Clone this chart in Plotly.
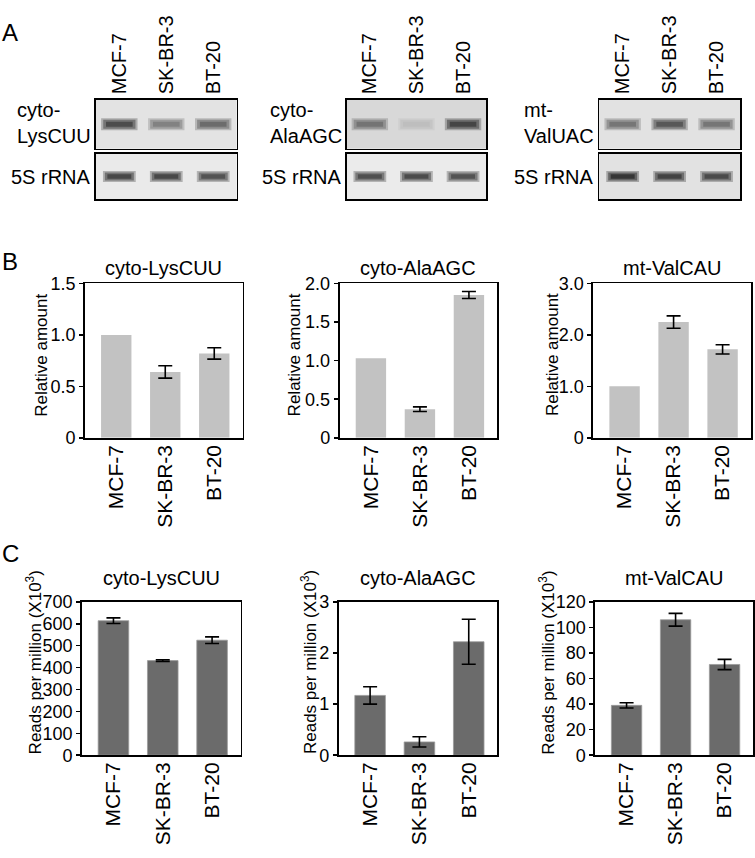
import plotly.graph_objects as go

W, H = 755, 858
FONT = "Liberation Sans, Arial, sans-serif"

cell_lines = ["MCF-7", "SK-BR-3", "BT-20"]

# ---- Panel A: northern blot band darkness (0 = blank, 1 = black) ----
blot_probes = ["cyto-<br>LysCUU", "cyto-<br>AlaAGC", "mt-<br>ValUAC"]
probe_band = [[0.85, 0.55, 0.68], [0.62, 0.22, 0.88], [0.62, 0.78, 0.62]]
rrna_band = [[0.88, 0.88, 0.82], [0.84, 0.86, 0.82], [0.97, 0.9, 0.86]]
probe_bg = ["#e3e3e3", "#d8d8d8", "#e2e2e2"]
rrna_bg = ["#eaeaea", "#ebebeb", "#e2e2e2"]
rrna_label = "5S rRNA"

# ---- Panel B: relative amount ----
b_titles = ["cyto-LysCUU", "cyto-AlaAGC", "mt-ValCAU"]
b_vals = [[1.0, 0.64, 0.82], [1.03, 0.37, 1.85], [1.0, 2.25, 1.72]]
b_err = [[None, 0.06, 0.055], [None, 0.03, 0.045], [None, 0.12, 0.09]]
b_tickvals = [[0, 0.5, 1.0, 1.5], [0, 0.5, 1.0, 1.5, 2.0], [0, 1.0, 2.0, 3.0]]
b_ticktext = [["0", "0.5", "1.0", "1.5"], ["0", "0.5", "1.0", "1.5", "2.0"], ["0", "1.0", "2.0", "3.0"]]
b_ymax = [1.5, 2.0, 3.0]
b_ylabel = "Relative amount"

# ---- Panel C: reads per million (x10^3) ----
c_titles = ["cyto-LysCUU", "cyto-AlaAGC", "mt-ValCAU"]
c_vals = [[614, 432, 525], [1.17, 0.26, 2.22], [39, 106, 71]]
c_err = [[13, 4, 15], [0.17, 0.10, 0.44], [2, 5, 4]]
c_tickvals = [[0, 100, 200, 300, 400, 500, 600, 700], [0, 1, 2, 3], [0, 20, 40, 60, 80, 100, 120]]
c_ymax = [700, 3, 120]
c_ylabel = "Reads per million (X10<sup>3</sup>)"

panel_letters = ["A", "B", "C"]

# ---- layout geometry (pixels in the 755x858 picture) ----
blot_x = [(96, 237), (347, 487), (600, 741)]
blot_upper_y = (92, 142)
blot_lower_y = (147, 194)
b_x = [(85, 243), (340, 498), (594, 752)]
b_y = (280, 438)
c_x = [(82, 241), (339, 498), (596, 754)]
c_y = (606, 763)
b_ylabel_x = [42, 295, 554]
c_ylabel_x = [34, 310, 548]


def px_x(p):
    return p / W


def px_y(p):
    return 1 - p / H


def xd(a, b):
    return [px_x(a), min(1.0, px_x(b))]


def yd(top, bottom):
    return [max(0.0, px_y(bottom)), px_y(top)]


fig = go.Figure()
layout = {}
shapes = []
annotations = []
counter = [0]


def new_axes(xdom, ydom, xopts, yopts):
    counter[0] += 1
    n = counter[0]
    sfx = "" if n == 1 else str(n)
    layout["xaxis" + sfx] = dict(domain=xdom, anchor="y" + sfx, **xopts)
    layout["yaxis" + sfx] = dict(domain=ydom, anchor="x" + sfx, **yopts)
    return "x" + sfx, "y" + sfx


def gray(d, a):
    g = int(round(232 - 215 * d))
    return f"rgba({g},{g},{g},{a})"


def add_bands(xa, ya, darkness, scale):
    # soft-edged band: stacked translucent strokes
    for size, w, a in [(26, 12, 0.3), (23, 9, 0.45), (19, 5, 0.6)]:
        fig.add_trace(go.Scatter(
            x=cell_lines, y=[0.5] * len(cell_lines), xaxis=xa, yaxis=ya,
            mode="markers", hoverinfo="skip", showlegend=False,
            marker=dict(symbol="line-ew", size=size * scale,
                        line=dict(width=w * scale, color=[gray(d, a) for d in darkness])),
        ))


blot_common_y = dict(range=[0, 1], showticklabels=False, ticks="", showgrid=False,
                     zeroline=False, showline=True, mirror=True, linecolor="black", linewidth=1.6)

for g in range(3):
    # upper probe blot
    xa, ya = new_axes(
        xd(*blot_x[g]), yd(*blot_upper_y),
        dict(type="category", categoryorder="array", categoryarray=cell_lines,
             range=[-0.5, 2.5], side="top", tickangle=-90, ticks="", showgrid=False,
             zeroline=False, showline=True, mirror=True, linecolor="black", linewidth=1.6,
             tickfont=dict(size=20, color="black", family=FONT)),
        blot_common_y)
    shapes.append(dict(type="rect", xref=xa + " domain", yref=ya + " domain", x0=0, x1=1, y0=0, y1=1,
                       fillcolor=probe_bg[g], line=dict(width=0), layer="below"))
    add_bands(xa, ya, probe_band[g], 1.0)
    annotations.append(dict(xref="paper", yref="paper", x=px_x(blot_x[g][0] - 3), y=px_y(116),
                            xanchor="right", yanchor="middle", align="left", showarrow=False,
                            text=blot_probes[g], font=dict(size=20, color="black", family=FONT)))
    # lower 5S blot
    xa, ya = new_axes(
        xd(*blot_x[g]), yd(*blot_lower_y),
        dict(type="category", categoryorder="array", categoryarray=cell_lines,
             range=[-0.5, 2.5], showticklabels=False, ticks="", showgrid=False,
             zeroline=False, showline=True, mirror=True, linecolor="black", linewidth=1.6),
        blot_common_y)
    shapes.append(dict(type="rect", xref=xa + " domain", yref=ya + " domain", x0=0, x1=1, y0=0, y1=1,
                       fillcolor=rrna_bg[g], line=dict(width=0), layer="below"))
    add_bands(xa, ya, rrna_band[g], 0.9)
    annotations.append(dict(xref="paper", yref="paper", x=px_x(blot_x[g][0] - 3), y=px_y(171),
                            xanchor="right", yanchor="middle", showarrow=False,
                            text=rrna_label, font=dict(size=20, color="black", family=FONT)))


def bar_x_axis():
    return dict(type="category", categoryorder="array", categoryarray=cell_lines,
                range=[-0.64, 2.58], tickangle=-90, ticks="", showgrid=False, zeroline=False,
                showline=True, mirror=True, linecolor="black", linewidth=1.8,
                ticklabelstandoff=-3,
                tickfont=dict(size=21, color="black", family=FONT))


def bar_y_axis(rng, tv, tt):
    return dict(range=rng, tickmode="array", tickvals=tv, ticktext=tt, ticks="outside",
                ticklen=4, tickwidth=1.5, tickcolor="black", showgrid=False, zeroline=False,
                showline=True, mirror=True, linecolor="black", linewidth=1.8,
                tickfont=dict(size=18, color="black", family=FONT))


def add_errors(xa, ya, vals, errs):
    xs = [c for c, e in zip(cell_lines, errs) if e is not None]
    ys = [v for v, e in zip(vals, errs) if e is not None]
    es = [e for e in errs if e is not None]
    fig.add_trace(go.Scatter(x=xs, y=ys, xaxis=xa, yaxis=ya, mode="markers",
                             marker=dict(size=1, opacity=0), hoverinfo="skip", showlegend=False,
                             error_y=dict(type="data", array=es, visible=True,
                                          color="black", thickness=1.6, width=7)))


for g in range(3):
    xa, ya = new_axes(xd(*b_x[g]), yd(*b_y), bar_x_axis(),
                      bar_y_axis([0, b_ymax[g]], b_tickvals[g], b_ticktext[g]))
    fig.add_trace(go.Bar(x=cell_lines, y=b_vals[g], xaxis=xa, yaxis=ya, width=0.62,
                         marker=dict(color="#c2c2c2", line=dict(width=0)), showlegend=False))
    add_errors(xa, ya, b_vals[g], b_err[g])
    annotations.append(dict(xref="paper", yref="paper", x=px_x((b_x[g][0] + b_x[g][1]) / 2),
                            y=px_y(264), xanchor="center", yanchor="middle", showarrow=False,
                            text=b_titles[g], font=dict(size=20, color="black", family=FONT)))
    annotations.append(dict(xref="paper", yref="paper", x=px_x(b_ylabel_x[g]), y=px_y(353),
                            xanchor="center", yanchor="middle", textangle=-90, showarrow=False,
                            text=b_ylabel, font=dict(size=17, color="black", family=FONT)))

for g in range(3):
    xa, ya = new_axes(xd(*c_x[g]), yd(*c_y), bar_x_axis(),
                      bar_y_axis([0, c_ymax[g]], c_tickvals[g], [str(v) for v in c_tickvals[g]]))
    fig.add_trace(go.Bar(x=cell_lines, y=c_vals[g], xaxis=xa, yaxis=ya, width=0.62,
                         marker=dict(color="#6b6b6b", line=dict(width=0.8, color="#9a9a9a")),
                         showlegend=False))
    add_errors(xa, ya, c_vals[g], c_err[g])
    annotations.append(dict(xref="paper", yref="paper", x=px_x((c_x[g][0] + c_x[g][1]) / 2),
                            y=px_y(582), xanchor="center", yanchor="middle", showarrow=False,
                            text=c_titles[g], font=dict(size=20, color="black", family=FONT)))
    annotations.append(dict(xref="paper", yref="paper", x=px_x(c_ylabel_x[g]), y=px_y(668),
                            xanchor="center", yanchor="middle", textangle=-90, showarrow=False,
                            text=c_ylabel, font=dict(size=17, color="black", family=FONT)))

for letter, yy in zip(panel_letters, [23, 258, 556]):
    annotations.append(dict(xref="paper", yref="paper", x=0, y=px_y(yy),
                            xanchor="left", yanchor="middle", showarrow=False,
                            text=letter, font=dict(size=24, color="black", family=FONT)))

fig.update_layout(
    width=W, height=H, margin=dict(l=0, r=0, t=0, b=0),
    paper_bgcolor="white", plot_bgcolor="white",
    font=dict(family=FONT, color="black"),
    showlegend=False, shapes=shapes, annotations=annotations, bargap=0.3,
    hovermode=False,
    **layout,
)

fig.write_html(
    "out.html",
    config={"displayModeBar": False, "staticPlot": True},
    post_script="document.body.style.margin='0';document.body.style.overflow='hidden';",
)
